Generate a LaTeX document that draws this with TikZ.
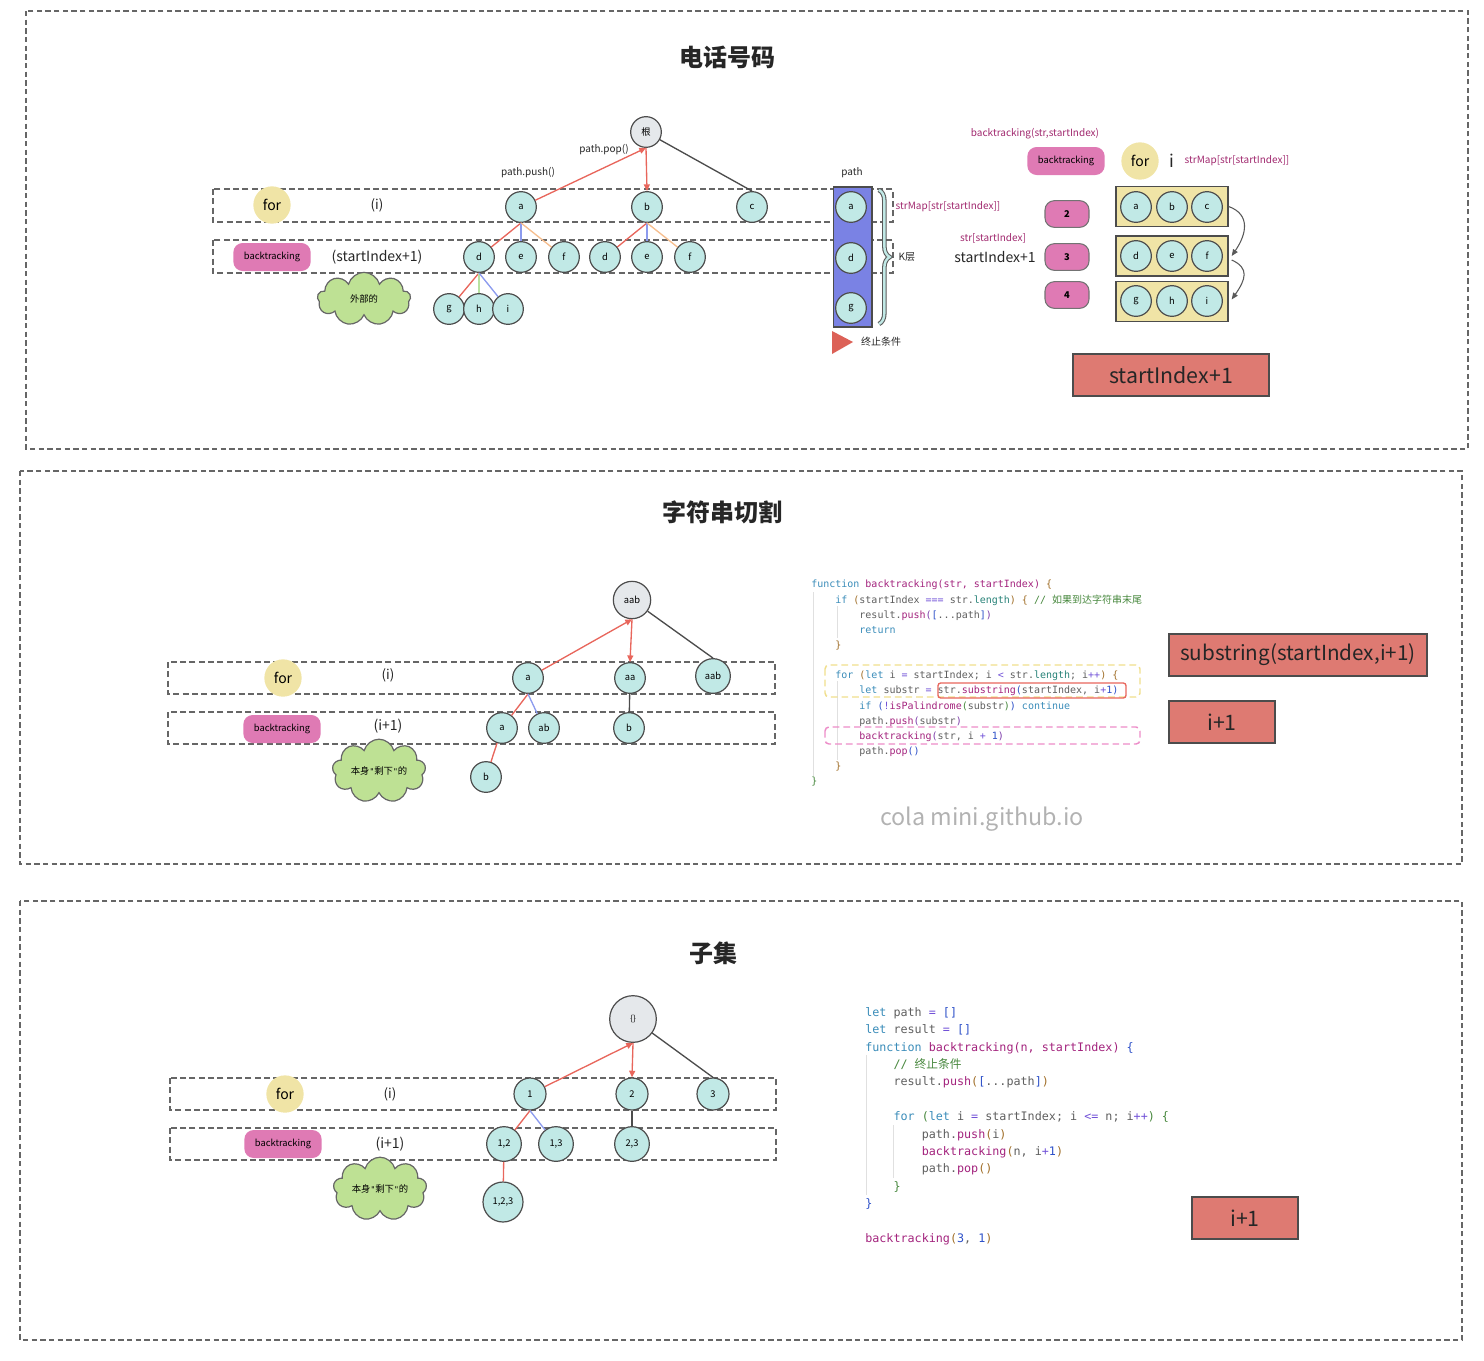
\documentclass[tikz,border=0pt]{standalone}
\usepackage{fontspec}
\setmainfont{Noto Sans CJK SC}
\setmonofont{DejaVu Sans Mono}
\newfontfamily\cjk{Noto Sans CJK SC}
\usepackage{xcolor}
\usetikzlibrary{arrows.meta,calc,shapes.symbols,decorations.pathreplacing}
\definecolor{bgcyan}{RGB}{193,233,230}
\definecolor{bggray}{RGB}{229,232,235}
\definecolor{bgyellow}{RGB}{240,228,166}
\definecolor{bgpink}{RGB}{223,122,180}
\definecolor{bggreen}{RGB}{190,225,148}
\definecolor{bgred}{RGB}{222,122,114}
\definecolor{bgblue}{RGB}{122,130,228}
\definecolor{lnred}{RGB}{232,102,92}
\definecolor{lnblue}{RGB}{140,155,238}
\definecolor{lnorange}{RGB}{246,190,142}
\definecolor{lngreen}{RGB}{184,226,160}
\definecolor{txpurple}{RGB}{160,40,110}
\definecolor{cdkw}{RGB}{58,140,185}
\definecolor{cdfn}{RGB}{163,35,125}
\definecolor{cdop}{RGB}{112,80,215}
\definecolor{cdtx}{RGB}{95,95,95}
\definecolor{cdcm}{RGB}{70,135,60}
\definecolor{cdbr}{RGB}{160,110,40}
\definecolor{cdbp}{RGB}{125,60,170}
\definecolor{cdbb}{RGB}{45,80,200}
\definecolor{cdln}{RGB}{40,130,120}
\definecolor{cdyel}{RGB}{240,222,140}
\definecolor{cdpink}{RGB}{236,140,200}
\newcommand{\fsz}[1]{\fontsize{#1}{#1}\selectfont}
\newcommand{\ckw}[1]{\textcolor{cdkw}{#1}}
\newcommand{\cfn}[1]{\textcolor{cdfn}{#1}}
\newcommand{\cop}[1]{\textcolor{cdop}{#1}}
\newcommand{\ccm}[1]{\textcolor{cdcm}{#1}}
\newcommand{\cnum}[1]{\textcolor{cdbb}{#1}}
\newcommand{\cbr}[1]{\textcolor{cdbr}{#1}}
\newcommand{\cbp}[1]{\textcolor{cdbp}{#1}}
\newcommand{\cbb}[1]{\textcolor{cdbb}{#1}}
\newcommand{\cbg}[1]{\textcolor{cdcm}{#1}}
\newcommand{\cln}[1]{\textcolor{cdln}{#1}}
\newcommand{\cind}{\phantom{xxxx}}
\newcommand{\sq}{{\ttfamily\fontsize{6}{6}\selectfont"}}

\begin{document}
\begin{tikzpicture}[x=0.75pt,y=-0.75pt,font=\fsz{7.5},
  frame/.style={draw=black!60,line width=1.1pt,dash pattern=on 4pt off 2.5pt},
  band/.style={draw=black!60,line width=1.1pt,dash pattern=on 4.5pt off 2.5pt},
  tnode/.style={circle,draw=black!70,line width=0.9pt,fill=bgcyan,minimum size=23pt,inner sep=0pt,font=\fsz{7}},
  rnode/.style={tnode,fill=bggray},
  forbub/.style={circle,fill=bgyellow,minimum size=28pt,inner sep=0pt,font=\fsz{10.5}},
  btpill/.style={rounded corners=7pt,fill=bgpink,minimum width=58pt,minimum height=21pt,inner sep=0pt,font=\fsz{7}},
  numpill/.style={btpill,draw=black!55,line width=0.8pt,minimum width=33pt,minimum height=20pt},
  puff/.style={cloud,cloud puffs=9,aspect=1.75,draw=black!60,line width=0.9pt,fill=bggreen,minimum width=70pt,minimum height=40pt,inner sep=0pt,font=\fsz{7}},
  slot/.style={draw=black!70,line width=1pt,fill=bgyellow,minimum width=84pt,minimum height=30pt},
  redbox/.style={draw=black!70,line width=1pt,fill=bgred,inner sep=0pt,minimum height=31.5pt,font=\fsz{16},text=black!85},
  hint/.style={font=\fsz{7.5},text=black!85},
  plab/.style={font=\fsz{7.5},text=txpurple},
  title/.style={font=\fsz{18}\bfseries,text=black!85},
  link/.style={line width=1pt},
  uparrow/.style={link,lnred,-{Triangle[length=5pt,width=4.5pt]}},
  code/.style={align=left,inner sep=0pt,text=cdtx,anchor=north west},
  guide/.style={draw=black!12,line width=0.6pt}
]
  \useasboundingbox (0,0) rectangle (1484,1360);

  % ---------- phone letters ----------
  \draw[frame] (26,11) rectangle (1468,449);
  \node[title] (t1) at (727,57) {电话号码};
  \draw[band] (213,189) rectangle (893,222);
  \draw[band] (213,240) rectangle (893,273);
  \node[forbub] (for1) at (272,205) {for};
  \node[font=\fsz{10},text=black!85] (ilab1) at (377,205) {(i)};
  \node[btpill] (bt1) at (272,257) {backtracking};
  \node[font=\fsz{10.5},text=black!85] (slab1) at (377,257) {(startIndex+1)};
  \node[puff] (cl1) at (364,299) {外部的};

  \node[rnode] (r1) at (646,132) {根};
  \node[tnode] (a1) at (521,207) {a};
  \node[tnode] (b1) at (647,207) {b};
  \node[tnode] (c1) at (752,207) {c};
  \node[tnode] (d1) at (479,257) {d};
  \node[tnode] (e1) at (521,257) {e};
  \node[tnode] (f1) at (564,257) {f};
  \node[tnode] (d2) at (605,257) {d};
  \node[tnode] (e2) at (647,257) {e};
  \node[tnode] (f2) at (690,257) {f};
  \node[tnode] (g1) at (449,309) {g};
  \node[tnode] (h1) at (479,309) {h};
  \node[tnode] (i1) at (508,309) {i};
  \node[hint] (push1) at (528,173) {path.push()};
  \node[hint] (pop1) at (604,150) {path.pop()};

  \draw[uparrow] (a1) -- (r1.south);
  \draw[uparrow] (r1.south) -- (b1.north);
  \draw[link,black!70] (r1) -- (c1.north);
  \draw[link,lnred] (a1.south) -- (d1);
  \draw[link,lnblue] (a1.south) -- (e1);
  \draw[link,lnorange] (a1.south) -- (f1);
  \draw[link,lnred] (b1.south) -- (d2);
  \draw[link,lnblue] (b1.south) -- (e2);
  \draw[link,lnorange] (b1.south) -- (f2);
  \draw[link,lnred] (d1.south) -- (g1);
  \draw[link,lngreen] (d1.south) -- (h1);
  \draw[link,lnblue] (d1.south) -- (i1);

  % path stack
  \node[draw=black!70,line width=1pt,fill=bgblue,minimum width=29pt,minimum height=105pt,inner sep=0pt] (stack) at (852.5,257) {};
  \node[hint] (stacklab) at (852,173) {path};
  \node[tnode] (pa) at (851,207) {a};
  \node[tnode] (pd) at (851,258) {d};
  \node[tnode] (pg) at (851,308) {g};
  \draw[decorate,decoration={brace,amplitude=8pt},line width=3.4pt,black!65] (879,190) -- (879,324);
  \draw[decorate,decoration={brace,amplitude=8pt},line width=1.8pt,bgcyan] (879,190) -- (879,324);
  \node[hint,anchor=west] (klab) at (894,257) {K层};
  \node[plab,anchor=west] (map1) at (891,207) {strMap[str[startIndex]]};
  \fill[lnred!95!black] (832,331) -- (853,342) -- (832,354) -- cycle;
  \node[hint] (stop) at (881,342) {终止条件};

  % lookup table
  \node[plab] (sig) at (1035,134) {backtracking(str,startIndex)};
  \node[btpill] (bt2) at (1066,161) {backtracking};
  \node[forbub] (for2) at (1140,161) {for};
  \node[font=\fsz{13},text=black!85] (ibig) at (1172,161) {i};
  \node[plab] (map2) at (1237,161) {strMap[str[startIndex]]};
  \node[plab] (sidx) at (993,238) {str[startIndex]};
  \node[font=\fsz{10.5},text=black!85] (slab2) at (995,257) {startIndex+1};
  \node[numpill] (num2) at (1067,214) {\bfseries 2};
  \node[numpill] (num3) at (1067,257) {\bfseries 3};
  \node[numpill] (num4) at (1067,295) {\bfseries 4};
  \node[slot] (rw1) at (1172,206.5) {};
  \node[slot] (rw2) at (1172,256) {};
  \node[slot] (rw3) at (1172,301.5) {};
  \node[tnode] (ta) at (1136,207) {a};
  \node[tnode] (tb) at (1172,207) {b};
  \node[tnode] (tc) at (1207,207) {c};
  \node[tnode] (td) at (1136,256) {d};
  \node[tnode] (te) at (1172,256) {e};
  \node[tnode] (tf) at (1207,256) {f};
  \node[tnode] (tg) at (1136,301) {g};
  \node[tnode] (th) at (1172,301) {h};
  \node[tnode] (ti) at (1207,301) {i};
  \draw[black!65,line width=0.8pt,-{Triangle[length=5pt,width=4pt]}] (rw1.east) .. controls +(22,8) and +(15,-22) .. ($(rw2.east)+(3,0)$);
  \draw[black!65,line width=0.8pt,-{Triangle[length=5pt,width=4pt]}] ($(rw2.east)+(3,4)$) .. controls +(18,8) and +(14,-20) .. ($(rw3.east)+(3,-2)$);
  \node[redbox,minimum width=147pt] (inc1) at (1171,375) {startIndex+1};

  % ---------- palindrome partition ----------
  \draw[frame] (20,471) rectangle (1462,864);
  \node[title] (t2) at (722,512) {字符串切割};
  \draw[band] (168,662) rectangle (775,694);
  \draw[band] (168,712) rectangle (775,744);
  \node[forbub] (for3) at (283,678) {for};
  \node[font=\fsz{10},text=black!85] (ilab3) at (388,675) {(i)};
  \node[btpill] (bt3) at (282,729) {backtracking};
  \node[font=\fsz{10.5},text=black!85] (slab3) at (388,726) {(i+1)};
  \node[puff] (cl2) at (379,771) {本身\sq 剩下\sq 的};

  \node[rnode,minimum size=28pt] (r2) at (632,600) {aab};
  \node[tnode] (sa) at (528,678) {a};
  \node[tnode] (saa) at (630,678) {aa};
  \node[tnode,minimum size=26pt] (saab) at (713,676) {aab};
  \node[tnode] (sa2) at (502,728) {a};
  \node[tnode] (sab) at (544,728) {ab};
  \node[tnode] (sb) at (629,728) {b};
  \node[tnode] (sb2) at (486,777) {b};
  \draw[uparrow] (sa) -- (r2.south);
  \draw[uparrow] (r2.south) -- (saa.north);
  \draw[link,black!70] (r2) -- (saab.north);
  \draw[link,lnred] (sa.south) -- (sa2);
  \draw[link,lnblue] (sa.south) -- (sab);
  \draw[link,black!70] (saa) -- (sb);
  \draw[link,lnred] (sa2) -- (sb2);

  \draw[guide] (813,592) -- (813,776);
  \draw[guide] (837,606) -- (837,638);
  \draw[guide] (837,681) -- (837,760);
  \node[code,font=\ttfamily\fontsize{7.5}{11.37}\selectfont] (code1) at (811,580) {%
\ckw{function} \cfn{backtracking(str, startIndex)} \cbr{\{}\\
\cind\ckw{if} \cbr{(}startIndex \cop{===} str.\cln{length}\cbr{)} \cbr{\{} \ccm{// {\cjk 如果到达字符串末尾}}\\
\cind\cind result.\cfn{push}\cbp{(}\cbb{[}...path\cbb{]}\cbp{)}\\
\cind\cind\ckw{return}\\
\cind\cbr{\}}\\
\mbox{}\\
\cind\ckw{for} \cbr{(}\ckw{let} i \cop{=} startIndex; i \cop{<} str.\cln{length}; i\cop{++}\cbr{)} \cbr{\{}\\
\cind\cind\ckw{let} substr \cop{=} str.\cfn{substring}\cbb{(}startIndex, i\cop{+}\cnum{1}\cbb{)}\\
\cind\cind\ckw{if} \cbb{(}\cop{!}\cfn{isPalindrome}\cbg{(}substr\cbg{)}\cbb{)} \ckw{continue}\\
\cind\cind path.\cfn{push}\cbp{(}substr\cbp{)}\\
\cind\cind\cfn{backtracking}\cbp{(}str, i \cop{+} \cnum{1}\cbp{)}\\
\cind\cind path.\cfn{pop}\cbb{()}\\
\cind\cbr{\}}\\
\cbg{\}}};
  \draw[cdyel,line width=1.1pt,dash pattern=on 5pt off 3pt,rounded corners=3pt] (825,665) rectangle (1140,697);
  \draw[lnred,line width=1pt,rounded corners=2pt] (938,683) rectangle (1126,698);
  \draw[cdpink,line width=1.1pt,dash pattern=on 5pt off 3pt,rounded corners=3pt] (825,727) rectangle (1140,744);
  \node[redbox,minimum width=193.5pt,font=\fsz{15.5}] (subbox) at (1298,655) {substring(startIndex,i+1)};
  \node[redbox,minimum width=79.5pt] (inc2) at (1222,722) {i+1};
  \node[font=\fsz{17.5},text=black!30] (mark) at (982,819) {cola mini.github.io};

  % ---------- subsets ----------
  \draw[frame] (20,901) rectangle (1462,1340);
  \node[title] (t3) at (713,953) {子集};
  \draw[band] (170,1078) rectangle (776,1110);
  \draw[band] (170,1128) rectangle (776,1160);
  \node[forbub] (for4) at (285,1094) {for};
  \node[font=\fsz{10},text=black!85] (ilab4) at (390,1094) {(i)};
  \node[btpill] (bt4) at (283,1144) {backtracking};
  \node[font=\fsz{10.5},text=black!85] (slab4) at (390,1144) {(i+1)};
  \node[puff] (cl3) at (380,1189) {本身\sq 剩下\sq 的};

  \node[rnode,minimum size=35pt,font=\fsz{6}] (r3) at (633,1019) {\{\}};
  \node[tnode,minimum size=24pt] (s1) at (530,1094) {1};
  \node[tnode,minimum size=24pt] (s2) at (632,1094) {2};
  \node[tnode,minimum size=24pt] (s3) at (713,1094) {3};
  \node[tnode,minimum size=26pt] (s12) at (504,1144) {1,2};
  \node[tnode,minimum size=26pt] (s13) at (556,1144) {1,3};
  \node[tnode,minimum size=26pt] (s23) at (632,1144) {2,3};
  \node[tnode,minimum size=30pt] (s123) at (503,1202) {1,2,3};
  \draw[uparrow] (s1) -- (r3.south);
  \draw[uparrow] (r3.south) -- (s2.north);
  \draw[link,black!70] (r3) -- (s3.north);
  \draw[link,lnred] (s1.south) -- (s12);
  \draw[link,lnblue] (s1.south) -- (s13);
  \draw[link,black!70] (s2) -- (s23);
  \draw[link,lnred] (s12) -- (s123);

  \draw[guide] (866,1055) -- (866,1195);
  \draw[guide] (893,1125) -- (893,1178);
  \node[code,font=\ttfamily\fontsize{8.8}{13.05}\selectfont] (code2) at (865,1007) {%
\ckw{let} path \cop{=} \cbb{[]}\\
\ckw{let} result \cop{=} \cbb{[]}\\
\ckw{function} \cfn{backtracking(n, startIndex)} \cbb{\{}\\
\cind\ccm{// {\cjk 终止条件}}\\
\cind result.\cfn{push}\cbr{(}\cbb{[}...path\cbb{]}\cbr{)}\\
\mbox{}\\
\cind\ckw{for} \cbg{(}\ckw{let} i \cop{=} startIndex; i \cop{<=} n; i\cop{++}\cbg{)} \cbg{\{}\\
\cind\cind path.\cfn{push}\cbr{(}i\cbr{)}\\
\cind\cind\cfn{backtracking}\cbr{(}n, i\cop{+}\cnum{1}\cbr{)}\\
\cind\cind path.\cfn{pop}\cbr{()}\\
\cind\cbg{\}}\\
\cbb{\}}\\
\mbox{}\\
\cfn{backtracking}\cbr{(}\cnum{3}, \cnum{1}\cbr{)}};
  \node[redbox,minimum width=79.5pt] (inc3) at (1245,1218) {i+1};
\end{tikzpicture}
\end{document}
